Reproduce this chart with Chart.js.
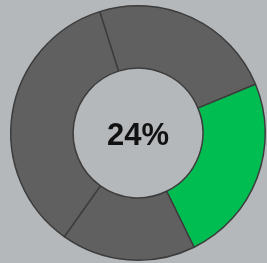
<!DOCTYPE html>
<html>
<head>
<meta charset="utf-8">
<script src="https://cdn.jsdelivr.net/npm/chart.js@4/dist/chart.umd.min.js"></script>
<style>
  body { margin: 0; background: #b5b8bb; }
  canvas { display: block; }
</style>
</head>
<body>
<canvas id="ringChart" width="267" height="263"></canvas>
<script>
// ring slices, clockwise from the top-left split
const sliceLabels = ['A', 'Done', 'B', 'C'];
const sliceValues = [23.6, 24, 17.1, 35.3];
const sliceColors = ['#606060', '#00bd51', '#606060', '#606060'];
const centerText = '24%';

const ringCanvas = document.getElementById('ringChart');

// big label in the hole
const centerLabel = {
  id: 'centerLabel',
  afterDraw(chart) {
    const ctx = chart.ctx;
    const meta = chart.getDatasetMeta(0).data[0];
    ctx.save();
    ctx.font = 'bold 31px "Liberation Sans", Arial, sans-serif';
    ctx.fillStyle = '#111';
    ctx.textAlign = 'center';
    ctx.textBaseline = 'middle';
    ctx.fillText(centerText, meta.x, meta.y + 3);
    ctx.restore();
  }
};

const ringChart = new Chart(ringCanvas, {
  type: 'doughnut',
  data: {
    labels: sliceLabels,
    datasets: [{
      data: sliceValues,
      backgroundColor: sliceColors,
      borderColor: '#3c3c3c',
      borderWidth: 1.5
    }]
  },
  options: {
    responsive: false,
    animation: false,
    rotation: -17.5,
    cutout: '51%',
    layout: { padding: { left: 10, right: 1, top: 5, bottom: 2 } },
    plugins: {
      legend: { display: false },
      tooltip: { enabled: false }
    }
  },
  plugins: [centerLabel]
});
</script>
</body>
</html>
